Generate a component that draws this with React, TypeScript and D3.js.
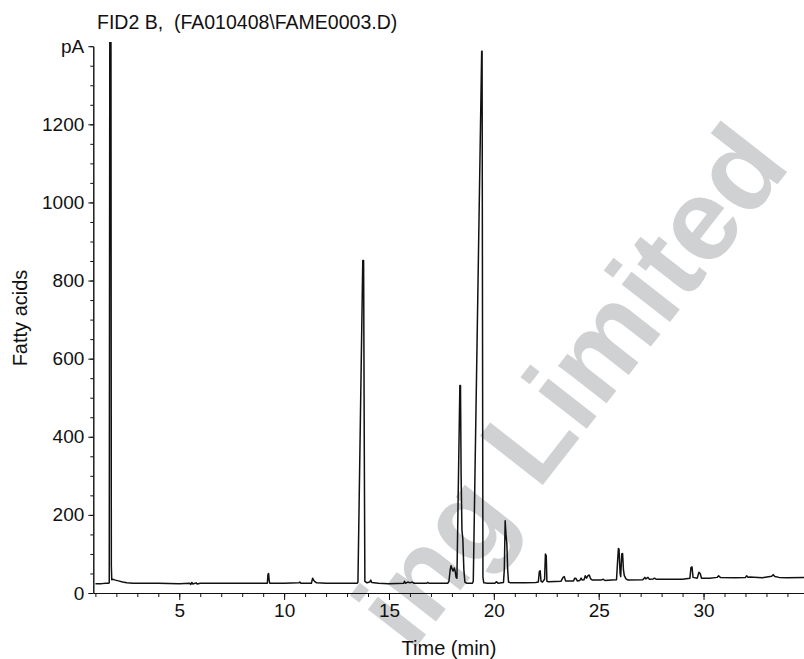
import React, { useEffect, useRef } from "react";
import * as d3 from "d3";

// retention time (min) and detector signal (pA)
const timeMin = [
  1.0, 1.3, 1.5, 1.62, 1.66, 1.69, 1.74, 1.76, 1.78, 1.85, 1.95, 2.1, 2.3, 2.5, 2.8, 3.2, 4.0, 5.0,
  5.5, 5.55, 5.6, 5.65, 5.8, 5.85, 6.0, 7.0, 8.0, 9.0, 9.2, 9.23, 9.26, 9.29, 9.32, 10.0, 10.7,
  10.75, 10.8, 11.3, 11.36, 11.4, 11.45, 11.55, 12.0, 13.0, 13.48, 13.52, 13.75, 13.79, 13.82,
  13.85, 13.95, 14.08, 14.13, 14.18, 14.5, 15.0, 15.7, 15.74, 15.78, 15.9, 16.0, 16.1, 16.2,
  16.8, 16.85, 16.9, 17.8, 17.86, 17.92, 17.96, 18.02, 18.06, 18.11, 18.15, 18.2, 18.24, 18.38,
  18.41, 18.44, 18.48, 18.52, 18.57, 18.62, 18.7, 18.98, 19.02, 19.42, 19.44, 19.46, 19.48,
  19.52, 19.7, 20.05, 20.13, 20.2, 20.46, 20.5, 20.54, 20.58, 20.62, 20.66, 20.7, 20.8, 21.5,
  22.0, 22.12, 22.17, 22.21, 22.25, 22.32, 22.42, 22.46, 22.5, 22.53, 22.6, 23.2, 23.3, 23.36,
  23.42, 23.8, 23.86, 23.92, 23.98, 24.1, 24.16, 24.22, 24.3, 24.36, 24.42, 24.48, 24.55, 24.62,
  24.7, 25.1, 25.22, 25.3, 25.6, 25.85, 25.9, 25.94, 25.97, 26.02, 26.05, 26.1, 26.14, 26.18,
  26.22, 26.3, 26.4, 27.1, 27.2, 27.25, 27.35, 27.42, 27.6, 27.66, 27.75, 28.5, 29.0, 29.35,
  29.4, 29.45, 29.5, 29.7, 29.78, 29.84, 29.9, 30.3, 30.65, 30.72, 30.8, 31.5, 32.0, 32.06,
  32.12, 32.2, 32.8, 33.25, 33.32, 33.4, 33.6, 34.0, 34.8,
];
const signalPA = [
  24, 24, 25, 25, 26, 1600, 1600, 70, 34, 35, 33, 31, 28, 26, 25, 25, 25, 24,
  25, 22, 27, 23, 26, 23, 25, 25, 25, 25, 25, 48, 50, 30, 25, 25, 26,
  28, 25, 25, 38, 33, 30, 26, 25, 25, 25, 28, 851, 851, 400,
  30, 26, 28, 33, 27, 25, 24, 25, 30, 25, 28, 26, 28, 25,
  25, 27, 25, 25, 30, 60, 70, 60, 56, 64, 58, 40, 38, 531,
  531, 300, 160, 140, 60, 28, 25, 25, 30, 1387, 1387, 700, 40,
  26, 25, 25, 29, 25, 27, 60, 185, 150, 127, 60, 28, 26, 26,
  27, 28, 55, 57, 30, 28, 35, 100, 95, 30, 29, 30, 40, 42,
  31, 31, 38, 37, 31, 32, 38, 33, 34, 44, 38, 44, 46, 36,
  33, 33, 35, 32, 33, 34, 80, 114, 112, 50, 42, 100, 101, 60,
  45, 36, 33, 34, 40, 36, 40, 35, 36, 38, 35, 35, 35, 38,
  65, 67, 40, 38, 53, 50, 38, 38, 40, 44, 40, 39, 40, 44,
  40, 41, 39, 43, 47, 42, 40, 39, 40,
];

const yMajorTicks = [0, 200, 400, 600, 800, 1000, 1200];
const xMajorTicks = [5, 10, 15, 20, 25, 30];

const titleText = "FID2 B,  (FA010408\\FAME0003.D)";
const yTopLabel = "pA";
const yAxisTitle = "Fatty acids";
const xAxisTitle = "Time (min)";
const watermarkText = "ing Limited";

const W = 804;
const H = 659;
const FONT = "'Liberation Sans', Arial, Helvetica, sans-serif";

const App = () => {
  const ref = useRef<SVGSVGElement>(null);

  useEffect(() => {
    const svg = d3.select(ref.current);
    svg.selectAll("*").remove();

    const x = d3.scaleLinear().domain([0.9, 34.8]).range([93.3, 804.2]);
    const y = d3.scaleLinear().domain([0, 1400]).range([593, 46.2]);

    // watermark sits behind everything, cut by the lower edge as in the scan
    svg.append("text")
      .attr("transform", "translate(792,166) rotate(-52)")
      .attr("text-anchor", "end")
      .attr("font-family", FONT)
      .attr("font-weight", "bold")
      .attr("font-size", 116)
      .attr("fill", "#d0d1d3")
      .text(watermarkText);

    const data = timeMin.map((t, i) => ({ t, v: signalPA[i] }));

    svg.append("clipPath")
      .attr("id", "plot-clip")
      .append("rect")
      .attr("x", 93.3)
      .attr("y", 42)
      .attr("width", W - 93.3)
      .attr("height", 593 - 42);

    const line = d3.line<{ t: number; v: number }>()
      .x(d => x(d.t))
      .y(d => y(d.v));

    svg.append("path")
      .datum(data)
      .attr("clip-path", "url(#plot-clip)")
      .attr("fill", "none")
      .attr("stroke", "#111")
      .attr("stroke-width", 1.5)
      .attr("stroke-linejoin", "round")
      .attr("d", line);

    // y axis: minor ticks every 50, labelled every 200, "pA" at the top
    const yMinor = d3.range(0, 1401, 50);
    svg.append("g")
      .attr("transform", "translate(93.3,0)")
      .call(d3.axisLeft(y).tickValues(yMinor).tickSize(3).tickSizeOuter(0).tickFormat(() => ""));
    const yMajor = svg.append("g")
      .attr("transform", "translate(93.3,0)")
      .call(
        d3.axisLeft(y)
          .tickValues([...yMajorTicks, 1400])
          .tickSize(5)
          .tickSizeOuter(0)
          .tickPadding(4)
          .tickFormat(d => (+d === 1400 ? yTopLabel : String(d)))
      );

    // x axis: minor ticks every minute
    const xMinor = d3.range(1, 35, 1);
    svg.append("g")
      .attr("transform", "translate(0,593)")
      .call(d3.axisBottom(x).tickValues(xMinor).tickSize(4).tickSizeOuter(0).tickFormat(() => ""));
    const xMajor = svg.append("g")
      .attr("transform", "translate(0,593)")
      .call(d3.axisBottom(x).tickValues(xMajorTicks).tickSize(7).tickSizeOuter(0).tickPadding(4));

    svg.selectAll(".domain, .tick line").attr("stroke", "#111").attr("stroke-width", 1);
    [yMajor, xMajor].forEach(g =>
      g.selectAll("text")
        .attr("font-family", FONT)
        .attr("font-size", 19)
        .attr("fill", "#111")
    );

    svg.append("text")
      .attr("x", 97)
      .attr("y", 29)
      .attr("font-family", FONT)
      .attr("font-size", 19.5)
      .attr("fill", "#111")
      .style("white-space", "pre")
      .text(titleText);

    svg.append("text")
      .attr("x", 449)
      .attr("y", 655)
      .attr("text-anchor", "middle")
      .attr("font-family", FONT)
      .attr("font-size", 20)
      .attr("fill", "#111")
      .text(xAxisTitle);

    svg.append("text")
      .attr("transform", "translate(27,318) rotate(-90)")
      .attr("text-anchor", "middle")
      .attr("font-family", FONT)
      .attr("font-size", 20)
      .attr("fill", "#111")
      .text(yAxisTitle);
  }, []);

  return (
    <svg
      ref={ref}
      width={W}
      height={H}
      style={{ position: "absolute", left: 0, top: 0, background: "#fff" }}
    ></svg>
  );
};

export default App;
